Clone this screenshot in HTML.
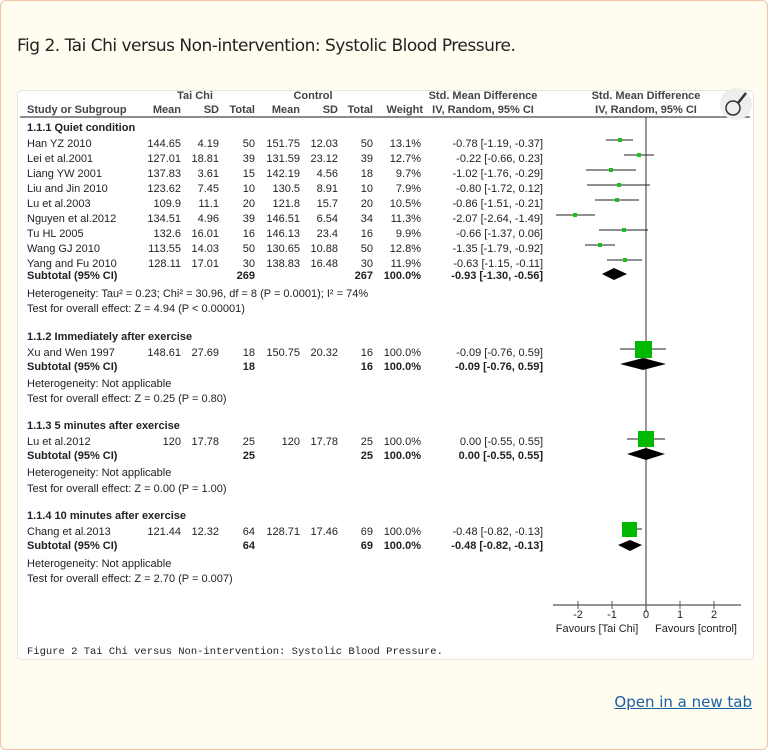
<!DOCTYPE html>
<html><head><meta charset="utf-8"><style>
body{margin:0;background:#fff;}
.outer{position:absolute;left:0;top:0;width:766px;height:748px;border:1px solid #f0c2a6;border-radius:6px;background:#fffcf0;}
.title{position:absolute;left:17px;top:36px;font:17px "DejaVu Sans","Liberation Sans",sans-serif;color:#222;letter-spacing:-0.5px}
.card{position:absolute;left:17px;top:90px;width:735px;height:568px;background:#fff;border:1px solid #e8e4d8;border-radius:5px;}
.link{position:absolute;right:16px;top:693px;font:15px "DejaVu Sans","Liberation Sans",sans-serif;color:#1a5fa8;text-decoration:underline}
svg{position:absolute;left:0;top:0}
text{font-family:"Liberation Sans",sans-serif;font-size:11px;fill:#222}
.b{font-weight:bold}
.r{text-anchor:end}
.m{text-anchor:middle}
</style></head><body>
<div class="outer"></div>
<div class="title">Fig 2. Tai Chi versus Non-intervention: Systolic Blood Pressure.</div>
<div class="card"></div>
<div class="link">Open in a new tab</div>
<svg width="768" height="750">
<g>
<text x="195" y="99" class="m b" style="fill:#444">Tai Chi</text>
<text x="313" y="99" class="m b" style="fill:#444">Control</text>
<text x="483" y="99" class="m b" style="fill:#444">Std. Mean Difference</text>
<text x="646" y="99" class="m b" style="fill:#444">Std. Mean Difference</text>
<text x="27" y="113" class="b" style="fill:#444">Study or Subgroup</text>
<text x="181" y="113" class="r b" style="fill:#444">Mean</text>
<text x="219" y="113" class="r b" style="fill:#444">SD</text>
<text x="255" y="113" class="r b" style="fill:#444">Total</text>
<text x="300" y="113" class="r b" style="fill:#444">Mean</text>
<text x="338" y="113" class="r b" style="fill:#444">SD</text>
<text x="373" y="113" class="r b" style="fill:#444">Total</text>
<text x="423" y="113" class="r b" style="fill:#444">Weight</text>
<text x="483" y="113" class="m b" style="fill:#444">IV, Random, 95% CI</text>
<text x="646" y="113" class="m b" style="fill:#444">IV, Random, 95% CI</text>
<line x1="20" y1="117" x2="750" y2="117" stroke="#666" stroke-width="1.5"/>
<circle cx="736" cy="104" r="16" fill="#eee"/>
<circle cx="733" cy="108" r="7" fill="none" stroke="#333" stroke-width="1.5"/>
<line x1="738" y1="103" x2="746" y2="93" stroke="#333" stroke-width="2.5"/>
<line x1="646" y1="117" x2="646" y2="612" stroke="#555" stroke-width="1.2"/>
<line x1="553" y1="605" x2="741" y2="605" stroke="#555" stroke-width="1.2"/>
<g stroke="#555"><line x1="578" y1="601" x2="578" y2="609"/><line x1="612" y1="601" x2="612" y2="609"/><line x1="646" y1="601" x2="646" y2="609"/><line x1="680" y1="601" x2="680" y2="609"/><line x1="714" y1="601" x2="714" y2="609"/></g>
<text x="578" y="618" class="m">-2</text><text x="612" y="618" class="m">-1</text><text x="646" y="618" class="m">0</text><text x="680" y="618" class="m">1</text><text x="714" y="618" class="m">2</text>
<text x="597" y="632" class="m">Favours [Tai Chi]</text><text x="696" y="632" class="m">Favours [control]</text>
<text x="27" y="131" class="b">1.1.1 Quiet condition</text>
</g>
<g id="rows"></g>
<text x="27" y="654" style="font-family:'Liberation Mono',monospace;font-size:10.5px">Figure 2 Tai Chi versus Non-intervention: Systolic Blood Pressure.</text>
<g>
<text x="27" y="147">Han YZ 2010</text><text x="181" y="147" class="r">144.65</text><text x="219" y="147" class="r">4.19</text><text x="255" y="147" class="r">50</text><text x="300" y="147" class="r">151.75</text><text x="338" y="147" class="r">12.03</text><text x="373" y="147" class="r">50</text><text x="421" y="147" class="r">13.1%</text><text x="543" y="147" class="r">-0.78 [-1.19, -0.37]</text>
<text x="27" y="162">Lei et al.2001</text><text x="181" y="162" class="r">127.01</text><text x="219" y="162" class="r">18.81</text><text x="255" y="162" class="r">39</text><text x="300" y="162" class="r">131.59</text><text x="338" y="162" class="r">23.12</text><text x="373" y="162" class="r">39</text><text x="421" y="162" class="r">12.7%</text><text x="543" y="162" class="r">-0.22 [-0.66, 0.23]</text>
<text x="27" y="177">Liang YW 2001</text><text x="181" y="177" class="r">137.83</text><text x="219" y="177" class="r">3.61</text><text x="255" y="177" class="r">15</text><text x="300" y="177" class="r">142.19</text><text x="338" y="177" class="r">4.56</text><text x="373" y="177" class="r">18</text><text x="421" y="177" class="r">9.7%</text><text x="543" y="177" class="r">-1.02 [-1.76, -0.29]</text>
<text x="27" y="192">Liu and Jin 2010</text><text x="181" y="192" class="r">123.62</text><text x="219" y="192" class="r">7.45</text><text x="255" y="192" class="r">10</text><text x="300" y="192" class="r">130.5</text><text x="338" y="192" class="r">8.91</text><text x="373" y="192" class="r">10</text><text x="421" y="192" class="r">7.9%</text><text x="543" y="192" class="r">-0.80 [-1.72, 0.12]</text>
<text x="27" y="207">Lu et al.2003</text><text x="181" y="207" class="r">109.9</text><text x="219" y="207" class="r">11.1</text><text x="255" y="207" class="r">20</text><text x="300" y="207" class="r">121.8</text><text x="338" y="207" class="r">15.7</text><text x="373" y="207" class="r">20</text><text x="421" y="207" class="r">10.5%</text><text x="543" y="207" class="r">-0.86 [-1.51, -0.21]</text>
<text x="27" y="222">Nguyen et al.2012</text><text x="181" y="222" class="r">134.51</text><text x="219" y="222" class="r">4.96</text><text x="255" y="222" class="r">39</text><text x="300" y="222" class="r">146.51</text><text x="338" y="222" class="r">6.54</text><text x="373" y="222" class="r">34</text><text x="421" y="222" class="r">11.3%</text><text x="543" y="222" class="r">-2.07 [-2.64, -1.49]</text>
<text x="27" y="237">Tu HL 2005</text><text x="181" y="237" class="r">132.6</text><text x="219" y="237" class="r">16.01</text><text x="255" y="237" class="r">16</text><text x="300" y="237" class="r">146.13</text><text x="338" y="237" class="r">23.4</text><text x="373" y="237" class="r">16</text><text x="421" y="237" class="r">9.9%</text><text x="543" y="237" class="r">-0.66 [-1.37, 0.06]</text>
<text x="27" y="252">Wang GJ 2010</text><text x="181" y="252" class="r">113.55</text><text x="219" y="252" class="r">14.03</text><text x="255" y="252" class="r">50</text><text x="300" y="252" class="r">130.65</text><text x="338" y="252" class="r">10.88</text><text x="373" y="252" class="r">50</text><text x="421" y="252" class="r">12.8%</text><text x="543" y="252" class="r">-1.35 [-1.79, -0.92]</text>
<text x="27" y="267">Yang and Fu 2010</text><text x="181" y="267" class="r">128.11</text><text x="219" y="267" class="r">17.01</text><text x="255" y="267" class="r">30</text><text x="300" y="267" class="r">138.83</text><text x="338" y="267" class="r">16.48</text><text x="373" y="267" class="r">30</text><text x="421" y="267" class="r">11.9%</text><text x="543" y="267" class="r">-0.63 [-1.15, -0.11]</text>
<text x="27" y="279" class="b">Subtotal (95% CI)</text><text x="255" y="279" class="r b">269</text><text x="373" y="279" class="r b">267</text><text x="421" y="279" class="r b">100.0%</text><text x="543" y="279" class="r b">-0.93 [-1.30, -0.56]</text>
<text x="27" y="297">Heterogeneity: Tau² = 0.23; Chi² = 30.96, df = 8 (P = 0.0001); I² = 74%</text>
<text x="27" y="312">Test for overall effect: Z = 4.94 (P &lt; 0.00001)</text>

<text x="27" y="340" class="b">1.1.2 Immediately after exercise</text>
<text x="27" y="356">Xu and Wen 1997</text><text x="181" y="356" class="r">148.61</text><text x="219" y="356" class="r">27.69</text><text x="255" y="356" class="r">18</text><text x="300" y="356" class="r">150.75</text><text x="338" y="356" class="r">20.32</text><text x="373" y="356" class="r">16</text><text x="421" y="356" class="r">100.0%</text><text x="543" y="356" class="r">-0.09 [-0.76, 0.59]</text>
<text x="27" y="370" class="b">Subtotal (95% CI)</text><text x="255" y="370" class="r b">18</text><text x="373" y="370" class="r b">16</text><text x="421" y="370" class="r b">100.0%</text><text x="543" y="370" class="r b">-0.09 [-0.76, 0.59]</text>
<text x="27" y="387">Heterogeneity: Not applicable</text>
<text x="27" y="402">Test for overall effect: Z = 0.25 (P = 0.80)</text>

<text x="27" y="429" class="b">1.1.3 5 minutes after exercise</text>
<text x="27" y="445">Lu et al.2012</text><text x="181" y="445" class="r">120</text><text x="219" y="445" class="r">17.78</text><text x="255" y="445" class="r">25</text><text x="300" y="445" class="r">120</text><text x="338" y="445" class="r">17.78</text><text x="373" y="445" class="r">25</text><text x="421" y="445" class="r">100.0%</text><text x="543" y="445" class="r">0.00 [-0.55, 0.55]</text>
<text x="27" y="459" class="b">Subtotal (95% CI)</text><text x="255" y="459" class="r b">25</text><text x="373" y="459" class="r b">25</text><text x="421" y="459" class="r b">100.0%</text><text x="543" y="459" class="r b">0.00 [-0.55, 0.55]</text>
<text x="27" y="476">Heterogeneity: Not applicable</text>
<text x="27" y="492">Test for overall effect: Z = 0.00 (P = 1.00)</text>

<text x="27" y="519" class="b">1.1.4 10 minutes after exercise</text>
<text x="27" y="535">Chang et al.2013</text><text x="181" y="535" class="r">121.44</text><text x="219" y="535" class="r">12.32</text><text x="255" y="535" class="r">64</text><text x="300" y="535" class="r">128.71</text><text x="338" y="535" class="r">17.46</text><text x="373" y="535" class="r">69</text><text x="421" y="535" class="r">100.0%</text><text x="543" y="535" class="r">-0.48 [-0.82, -0.13]</text>
<text x="27" y="549" class="b">Subtotal (95% CI)</text><text x="255" y="549" class="r b">64</text><text x="373" y="549" class="r b">69</text><text x="421" y="549" class="r b">100.0%</text><text x="543" y="549" class="r b">-0.48 [-0.82, -0.13]</text>
<text x="27" y="567">Heterogeneity: Not applicable</text>
<text x="27" y="582">Test for overall effect: Z = 2.70 (P = 0.007)</text>
</g>
<g stroke="#222" stroke-width="1">
<line x1="606" y1="140" x2="633" y2="140"/>
<line x1="624" y1="155" x2="654" y2="155"/>
<line x1="586" y1="170" x2="636" y2="170"/>
<line x1="587" y1="185" x2="650" y2="185"/>
<line x1="595" y1="200" x2="639" y2="200"/>
<line x1="556" y1="215" x2="595" y2="215"/>
<line x1="599" y1="230" x2="648" y2="230"/>
<line x1="585" y1="245" x2="615" y2="245"/>
<line x1="607" y1="260" x2="642" y2="260"/>
<line x1="620" y1="349" x2="666" y2="349"/>
<line x1="627" y1="439" x2="665" y2="439"/>
<line x1="630" y1="529" x2="642" y2="529"/>
</g>
<g fill="#1fbf1f">
<rect x="618" y="138" width="4" height="4"/>
<rect x="637" y="153" width="4" height="4"/>
<rect x="609" y="168" width="4" height="4"/>
<rect x="617" y="183" width="4" height="4"/>
<rect x="615" y="198" width="4" height="4"/>
<rect x="573" y="213" width="4" height="4"/>
<rect x="622" y="228" width="4" height="4"/>
<rect x="598" y="243" width="4" height="4"/>
<rect x="623" y="258" width="4" height="4"/>
<rect x="635" y="341" width="17" height="17" fill="#00b800"/>
<rect x="638" y="431" width="16" height="16" fill="#00b800"/>
<rect x="622" y="522" width="15" height="15" fill="#00b800"/>
</g>
<g fill="#000">
<polygon points="602,274 614,268 627,274 614,280"/>
<polygon points="620,364 643,358 666,364 643,370"/>
<polygon points="627,454 646,448 665,454 646,460"/>
<polygon points="618,545 630,540 642,545 630,551"/>
</g>
</svg>
</body></html>
